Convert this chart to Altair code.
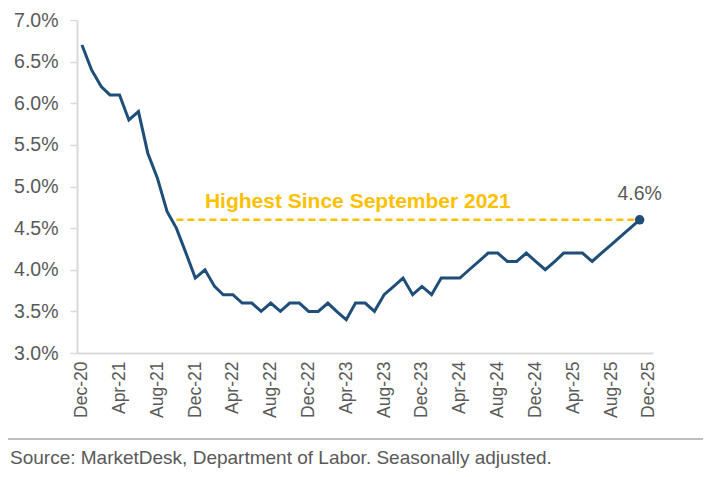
import altair as alt
import pandas as pd

# ---- data ----
months = [
    "2020-12-01",
    "2021-01-01", "2021-02-01", "2021-03-01", "2021-04-01", "2021-05-01", "2021-06-01",
    "2021-07-01", "2021-08-01", "2021-09-01", "2021-10-01", "2021-11-01", "2021-12-01",
    "2022-01-01", "2022-02-01", "2022-03-01", "2022-04-01", "2022-05-01", "2022-06-01",
    "2022-07-01", "2022-08-01", "2022-09-01", "2022-10-01", "2022-11-01", "2022-12-01",
    "2023-01-01", "2023-02-01", "2023-03-01", "2023-04-01", "2023-05-01", "2023-06-01",
    "2023-07-01", "2023-08-01", "2023-09-01", "2023-10-01", "2023-11-01", "2023-12-01",
    "2024-01-01", "2024-02-01", "2024-03-01", "2024-04-01", "2024-05-01", "2024-06-01",
    "2024-07-01", "2024-08-01", "2024-09-01", "2024-10-01", "2024-11-01", "2024-12-01",
    "2025-01-01", "2025-02-01", "2025-03-01", "2025-04-01", "2025-05-01", "2025-06-01",
    "2025-07-01", "2025-08-01", "2025-09-01", "2025-11-01",
]
unemployment = [
    6.7,
    6.4, 6.2, 6.1, 6.1, 5.8, 5.9, 5.4, 5.1, 4.7, 4.5, 4.2, 3.9,
    4.0, 3.8, 3.7, 3.7, 3.6, 3.6, 3.5, 3.6, 3.5, 3.6, 3.6, 3.5,
    3.5, 3.6, 3.5, 3.4, 3.6, 3.6, 3.5, 3.7, 3.8, 3.9, 3.7, 3.8,
    3.7, 3.9, 3.9, 3.9, 4.0, 4.1, 4.2, 4.2, 4.1, 4.1, 4.2, 4.1,
    4.0, 4.1, 4.2, 4.2, 4.2, 4.1, 4.2, 4.3, 4.4, 4.6,
]
tick_years_months = [(2020, 12), (2021, 4), (2021, 8), (2021, 12), (2022, 4), (2022, 8),
                     (2022, 12), (2023, 4), (2023, 8), (2023, 12), (2024, 4), (2024, 8),
                     (2024, 12), (2025, 4), (2025, 8), (2025, 12)]
y_ticks = [3.0, 3.5, 4.0, 4.5, 5.0, 5.5, 6.0, 6.5, 7.0]
ref_start = ["2021-10-01"]
ref_end = ["2025-11-01"]
ref_level = [4.6]
annotation_text = ["Highest Since September 2021"]
annotation_date = ["2022-01-01"]
last_label = ["4.6%"]
source_text = ["Source: MarketDesk, Department of Labor. Seasonally adjusted."]

NAVY = "#1F4E79"
GOLD = "#FFC000"
GREY = "#595959"
AXIS = "#D9D9D9"
FONT = "Liberation Sans"

df = pd.DataFrame({"date": months, "rate": [v / 100 for v in unemployment]})
last = df.tail(1).assign(label=last_label)
ref = pd.DataFrame({"date": ref_start, "end": ref_end, "rate": [v / 100 for v in ref_level]})
ann = pd.DataFrame({"date": annotation_date, "rate": [v / 100 for v in ref_level], "text": annotation_text})
src = pd.DataFrame({"text": source_text})

xscale = alt.Scale(type="utc", domain=[alt.DateTime(year=2020, month=11, date=15, utc=True),
                                       alt.DateTime(year=2025, month=12, date=14, utc=True)])
yscale = alt.Scale(domain=[0.03, 0.07], nice=False, zero=False)

x_axis = alt.Axis(
    values=[alt.DateTime(year=y, month=m, date=1, utc=True) for y, m in tick_years_months],
    format="%b-%y", labelAngle=-90, labelAlign="right", labelBaseline="middle",
    labelFont=FONT, labelFontSize=17.5, labelColor=GREY, labelPadding=8,
    labelOverlap=False, labelFlush=False, labelBound=False,
    ticks=False, domainColor=AXIS, domainWidth=2, grid=False, title=None,
)
y_axis = alt.Axis(
    values=[v / 100 for v in y_ticks], format=".1%",
    labelFont=FONT, labelFontSize=19.5, labelColor=GREY, labelPadding=12,
    labelOverlap=False, labelFlush=False,
    tickColor=AXIS, tickSize=7, tickWidth=1.5, domainColor=AXIS, domainWidth=2,
    grid=False, title=None,
)

X = alt.X("date:T", scale=xscale, axis=x_axis)
Y = alt.Y("rate:Q", scale=yscale, axis=y_axis)

line = alt.Chart(df).mark_line(color=NAVY, strokeWidth=3).encode(x=X, y=Y)

refline = alt.Chart(ref).mark_rule(color=GOLD, strokeWidth=2.5, strokeDash=[7, 4]).encode(
    x=X, x2="end:T", y=Y
)

ann_text = alt.Chart(ann).mark_text(
    color=GOLD, font=FONT, fontSize=21, fontWeight="bold", align="left", baseline="middle", dy=-18
).encode(x=X, y=Y, text="text:N")

dot = alt.Chart(last).mark_point(filled=True, color=NAVY, size=90, opacity=1).encode(x=X, y=Y)
dot_label = alt.Chart(last).mark_text(
    color=GREY, font=FONT, fontSize=19.5, align="center", baseline="middle", dy=-26
).encode(x=X, y=Y, text="label:N")

footer_rule = alt.Chart(src).mark_rule(color="#BFBFBF", strokeWidth=2).encode(
    x=alt.value(-77), x2=alt.value(626), y=alt.value(419)
)
footer_text = alt.Chart(src).mark_text(
    color=GREY, font=FONT, fontSize=19, align="left", baseline="middle"
).encode(x=alt.value(-67), y=alt.value(438), text="text:N")

chart = alt.layer(line, refline, ann_text, dot, dot_label, footer_rule, footer_text).properties(
    width=576, height=333,
    background="white",
    autosize=alt.AutoSizeParams(type="none"),
    padding={"left": 69, "top": 12, "right": 50, "bottom": 124},
).configure_view(stroke=None)

chart.save("out.html", embed_options={"renderer": "svg", "actions": False})
